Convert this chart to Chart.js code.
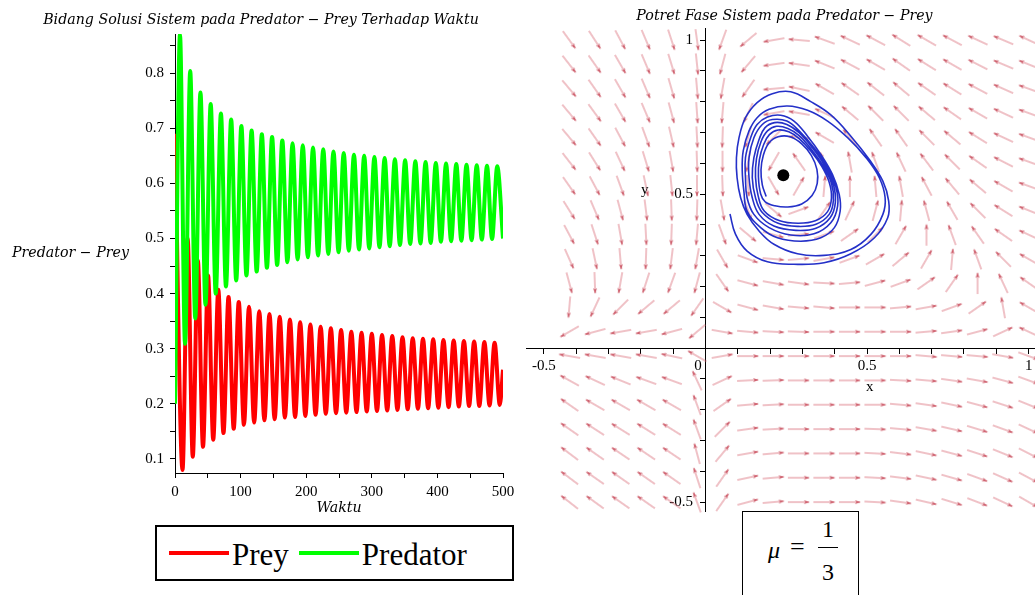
<!DOCTYPE html>
<html>
<head>
<meta charset="utf-8">
<script src="https://cdn.jsdelivr.net/npm/chart.js@4.4.0/dist/chart.umd.min.js"></script>
<style>
  body { margin: 0; width: 1035px; height: 595px; overflow: hidden; position: relative; background: #fff; font-family: "Liberation Serif", serif; color: #000; }
  canvas { position: absolute; top: 0; }
  #grafikWaktu { left: 0; }
  #grafikFase { left: 514px; }
  #labelSumbuY { position: absolute; left: 12px; top: 244px; font: italic 14.2px "DejaVu Serif"; line-height: 17px; white-space: nowrap; }
  #legenda { position: absolute; left: 155px; top: 525px; width: 343px; height: 52px; border: 2px solid #000; display: flex; align-items: center; padding-left: 12px; box-sizing: content-box; }
  #legenda .item { display: flex; align-items: center; margin-right: 10px; }
  #legenda .garis { width: 60px; height: 4px; margin-right: 3px; }
  #legenda .teks { font: 31px "Liberation Serif"; line-height: 31px; margin-top: 3px; }
  .labelFase { position: absolute; font: 15px "Liberation Serif"; line-height: 16px; }
  #kotakMu { position: absolute; left: 742px; top: 511px; width: 115px; height: 95px; border: 1px solid #000; background: #fff; }
  #kotakMu span { position: absolute; font: 24px "Liberation Serif"; line-height: 24px; }
  #kotakMu .garisPecahan { position: absolute; left: 75px; top: 35px; width: 20px; height: 1px; background: #000; }
</style>
</head>
<body>
<canvas id="grafikWaktu" width="520" height="520"></canvas>
<canvas id="grafikFase" width="541" height="523"></canvas>
<div id="labelSumbuY">Predator − Prey</div>
<div id="legenda"></div>
<div class="labelFase" style="left:641px; top:181px;">y</div>
<div class="labelFase" style="left:866px; top:378px;">x</div>
<div id="kotakMu">
  <span style="left:25px; top:26px; font-style:italic;">μ</span>
  <span style="left:47px; top:23px; font-size:26px;">=</span>
  <span style="left:79px; top:5px;">1</span>
  <div class="garisPecahan"></div>
  <span style="left:79px; top:48px;">3</span>
</div>
<script>
// deret waktu: titik puncak & lembah tiap osilasi
const waktuPredator = [0, 7.6, 15.3, 23.2, 30.9, 38.8, 46.5, 54.4, 62.1, 70.0, 77.7, 85.6, 93.3, 101.2, 108.9, 116.8, 124.5, 132.4, 140.1, 148.0, 155.7, 163.6, 171.3, 179.2, 186.9, 194.8, 202.5, 210.4, 218.1, 226.0, 233.7, 241.6, 249.3, 257.2, 264.9, 272.8, 280.5, 288.4, 296.1, 304.0, 311.7, 319.6, 327.3, 335.2, 342.9, 350.8, 358.5, 366.4, 374.1, 382.0, 389.7, 397.6, 405.3, 413.2, 420.9, 428.8, 436.5, 444.4, 452.1, 460.0, 467.7, 475.6, 483.3, 491.2, 500];
const nilaiPredator = [0.20, 0.870, 0.309, 0.804, 0.355, 0.765, 0.380, 0.744, 0.400, 0.727, 0.413, 0.716, 0.424, 0.704, 0.433, 0.696, 0.440, 0.689, 0.447, 0.684, 0.452, 0.678, 0.457, 0.673, 0.462, 0.669, 0.466, 0.665, 0.469, 0.662, 0.472, 0.658, 0.475, 0.655, 0.478, 0.652, 0.480, 0.650, 0.482, 0.648, 0.484, 0.646, 0.486, 0.644, 0.488, 0.642, 0.490, 0.640, 0.491, 0.639, 0.492, 0.637, 0.494, 0.636, 0.495, 0.635, 0.496, 0.634, 0.497, 0.633, 0.498, 0.632, 0.499, 0.631, 0.500];
const waktuPrey = [0, 11.5, 19.2, 27.1, 34.8, 42.7, 50.4, 58.3, 66.0, 73.9, 81.6, 89.5, 97.2, 105.1, 112.8, 120.7, 128.4, 136.3, 144.0, 151.9, 159.6, 167.5, 175.2, 183.1, 190.8, 198.7, 206.4, 214.3, 222.0, 229.9, 237.6, 245.5, 253.2, 261.1, 268.8, 276.7, 284.4, 292.3, 300.0, 307.9, 315.6, 323.5, 331.2, 339.1, 346.8, 354.7, 362.4, 370.3, 378.0, 385.9, 393.6, 401.5, 409.2, 417.1, 424.8, 432.7, 440.4, 448.3, 456.0, 463.9, 471.6, 479.5, 487.2, 495.1, 500];
const nilaiPrey = [0.69, 0.080, 0.500, 0.104, 0.460, 0.122, 0.433, 0.135, 0.407, 0.147, 0.394, 0.155, 0.385, 0.162, 0.376, 0.166, 0.368, 0.170, 0.363, 0.172, 0.358, 0.175, 0.353, 0.176, 0.348, 0.178, 0.344, 0.180, 0.340, 0.182, 0.337, 0.183, 0.334, 0.184, 0.331, 0.185, 0.329, 0.186, 0.327, 0.187, 0.325, 0.188, 0.323, 0.189, 0.321, 0.190, 0.319, 0.191, 0.318, 0.192, 0.317, 0.193, 0.316, 0.194, 0.315, 0.195, 0.314, 0.196, 0.313, 0.196, 0.312, 0.197, 0.311, 0.198, 0.262];
const tickWaktu = [0, 50, 100, 150, 200, 250, 300, 350, 400, 450, 500];
const tickNilai = [0.1, 0.15, 0.2, 0.25, 0.3, 0.35, 0.4, 0.45, 0.5, 0.55, 0.6, 0.65, 0.7, 0.75, 0.8, 0.85];

// potret fase: lintasan (x = prey, y = predator) dan titik setimbang
const lintasanX = [0.076, 0.093, 0.129, 0.192, 0.274, 0.367, 0.450, 0.523, 0.564, 0.567, 0.549, 0.507, 0.450, 0.388, 0.326, 0.264, 0.207, 0.160, 0.124, 0.104, 0.096, 0.098, 0.109, 0.129,
  0.166, 0.212, 0.285, 0.367, 0.450, 0.512, 0.549, 0.556, 0.538, 0.497, 0.440, 0.378, 0.316, 0.254, 0.197, 0.160, 0.135, 0.117, 0.114, 0.119,
  0.129, 0.171, 0.223, 0.295, 0.357, 0.399, 0.417, 0.414, 0.393, 0.357, 0.316, 0.274, 0.233, 0.192, 0.160, 0.140, 0.124, 0.124, 0.129,
  0.150, 0.197, 0.264, 0.336, 0.388, 0.409, 0.404, 0.378, 0.336, 0.290, 0.252, 0.207, 0.176, 0.150, 0.135, 0.135, 0.145,
  0.166, 0.212, 0.280, 0.342, 0.386, 0.402, 0.396, 0.370, 0.331, 0.290, 0.252, 0.214, 0.184, 0.166, 0.150, 0.145, 0.155,
  0.176, 0.225, 0.285, 0.342, 0.383, 0.396, 0.390, 0.365, 0.328, 0.290, 0.255, 0.220, 0.192, 0.172, 0.158, 0.155, 0.163,
  0.182, 0.230, 0.288, 0.340, 0.378, 0.390, 0.383, 0.360, 0.326, 0.290, 0.258, 0.225, 0.198, 0.180, 0.167, 0.164, 0.171,
  0.185, 0.215, 0.255, 0.298, 0.330, 0.346, 0.345, 0.328, 0.298, 0.262, 0.225, 0.196, 0.179, 0.172, 0.176, 0.188];
const lintasanY = [0.435, 0.370, 0.315, 0.280, 0.272, 0.277, 0.306, 0.358, 0.423, 0.477, 0.542, 0.612, 0.688, 0.757, 0.800, 0.832, 0.826, 0.797, 0.748, 0.683, 0.618, 0.553, 0.488, 0.434,
  0.380, 0.337, 0.306, 0.301, 0.320, 0.369, 0.434, 0.488, 0.553, 0.618, 0.683, 0.737, 0.772, 0.786, 0.775, 0.748, 0.705, 0.640, 0.575, 0.510,
  0.445, 0.391, 0.358, 0.347, 0.358, 0.391, 0.445, 0.499, 0.564, 0.629, 0.688, 0.737, 0.756, 0.750, 0.726, 0.683, 0.618, 0.553, 0.488,
  0.434, 0.391, 0.367, 0.371, 0.407, 0.461, 0.521, 0.585, 0.650, 0.705, 0.737, 0.742, 0.726, 0.683, 0.618, 0.553, 0.488,
  0.434, 0.396, 0.382, 0.389, 0.423, 0.472, 0.531, 0.591, 0.650, 0.699, 0.726, 0.732, 0.715, 0.677, 0.618, 0.553, 0.488,
  0.440, 0.405, 0.395, 0.402, 0.434, 0.480, 0.535, 0.590, 0.645, 0.690, 0.713, 0.720, 0.705, 0.670, 0.615, 0.555, 0.495,
  0.445, 0.413, 0.405, 0.413, 0.443, 0.487, 0.538, 0.590, 0.640, 0.680, 0.702, 0.708, 0.693, 0.660, 0.612, 0.557, 0.500,
  0.475, 0.462, 0.458, 0.468, 0.495, 0.535, 0.580, 0.625, 0.663, 0.686, 0.686, 0.665, 0.625, 0.578, 0.530, 0.492];
const titikSetimbang = { x: 0.241, y: 0.561 };
const tickFase = [-0.5, -0.4, -0.3, -0.2, -0.1, 0, 0.1, 0.2, 0.3, 0.4, 0.5, 0.6, 0.7, 0.8, 0.9, 1];

// medan arah: posisi grid dan sudut panah (derajat, berlawanan jarum jam dari sumbu x)
const arahX = [-0.421, -0.342, -0.263, -0.184, -0.105, -0.026, 0.053, 0.132, 0.211, 0.289, 0.368, 0.447, 0.526, 0.605, 0.684, 0.763, 0.842, 0.921, 1.0];
const arahY = [1.0, 0.921, 0.842, 0.763, 0.684, 0.605, 0.526, 0.447, 0.368, 0.289, 0.211, 0.132, 0.053, -0.026, -0.105, -0.184, -0.263, -0.342, -0.421, -0.5];
const sudutArah = [
  [-54, -57, -62, -67, -72, -82, -110, -140, -170, 175, 160, 155, 152, 148, 150, 152, 155, 157, 155],
  [-52, -55, -60, -67, -73, -84, -105, -130, -172, 172, 158, 152, 150, 145, 148, 150, 153, 157, 158],
  [-50, -55, -60, -67, -74, -85, -100, -125, -175, 168, 150, 145, 142, 140, 145, 148, 152, 156, 160],
  [-50, -54, -60, -67, -75, -86, -95, -115, -170, 170, 155, 140, 135, 135, 140, 145, 150, 155, 160],
  [-50, -55, -62, -70, -77, -87, -92, -105, -135, 175, 150, 130, 125, 125, 135, 140, 148, 155, 160],
  [-52, -58, -65, -73, -80, -88, -90, -100, -120, 125, 115, 100, 110, 115, 127, 135, 145, 153, 160],
  [-55, -62, -70, -78, -84, -90, -88, -85, -60, 60, 85, 90, 95, 100, 118, 130, 140, 150, 160],
  [-58, -67, -75, -83, -88, -92, -80, -70, -40, 20, 55, 65, 75, 85, 105, 120, 135, 148, 158],
  [-62, -72, -80, -87, -92, -95, -70, -40, -15, 5, 20, 35, 45, 60, 90, 110, 125, 145, 155],
  [-66, -78, -85, -92, -97, -100, -60, -20, -5, 5, 10, 20, 30, 40, 60, 85, 110, 135, 150],
  [-75, -88, -100, -108, -110, -105, -55, -15, -10, -8, -3, 5, 15, 20, 35, 55, 90, 115, 145],
  [-95, -115, -135, -140, -140, -125, -30, -15, -10, -5, -5, 0, 0, 5, 10, 20, 35, 100, 150],
  [-150, -165, -170, -170, -165, -140, -10, -5, -3, -2, 0, 0, 0, 0, 5, 8, 15, 25, 155],
  [170, 170, 170, 170, 168, 150, 10, 0, 0, 0, 0, 0, 0, 0, -5, -5, -5, -10, -20],
  [151, 155, 158, 160, 160, 115, 25, 3, 2, 0, 0, 0, 0, -3, -5, -8, -10, -15, -20],
  [145, 150, 150, 150, 150, 110, 35, 5, 3, 0, 0, 0, 0, -5, -8, -12, -15, -18, -22],
  [145, 147, 148, 148, 148, 110, 45, 8, 3, 0, 0, 0, -2, -5, -10, -13, -17, -20, -25],
  [143, 145, 146, 146, 146, 105, 50, 10, 5, 0, 0, 0, -3, -7, -12, -15, -18, -22, -27],
  [143, 145, 145, 145, 145, 108, 55, 12, 5, 0, 0, 0, -3, -7, -12, -16, -20, -24, -28],
  [142, 144, 145, 145, 145, 110, 55, 15, 5, 0, 0, 0, -3, -8, -13, -17, -21, -25, -30]
];

const hitam = '#000';
const fontJudul = { family: 'DejaVu Serif', style: 'italic', size: 14.2, weight: 'normal' };
const fontTick = { family: 'Liberation Serif', size: 15 };

const gabung = (xs, ys) => xs.map((x, i) => ({ x: x, y: ys[i] }));
const pakaiTick = (daftar) => (scale) => { scale.ticks = daftar.map(v => ({ value: v })); };

// ---------- grafik kiri: solusi terhadap waktu ----------
const grafikWaktu = new Chart(document.getElementById('grafikWaktu'), {
  type: 'line',
  data: {
    datasets: [
      { label: 'Predator', data: gabung(waktuPredator, nilaiPredator), borderColor: '#00ff00', backgroundColor: '#00ff00', borderWidth: 4, pointRadius: 0, cubicInterpolationMode: 'monotone', fill: false },
      { label: 'Prey', data: gabung(waktuPrey, nilaiPrey), borderColor: '#ff0000', backgroundColor: '#ff0000', borderWidth: 4, pointRadius: 0, cubicInterpolationMode: 'monotone', fill: false }
    ]
  },
  options: {
    responsive: false, animation: false, devicePixelRatio: 1,
    layout: { padding: { left: 19, right: 17, top: 0, bottom: 0 } },
    plugins: {
      legend: { display: false },
      tooltip: { enabled: false },
      title: { display: true, text: 'Bidang Solusi Sistem pada Predator − Prey Terhadap Waktu', font: fontJudul, color: hitam, padding: { top: 12, bottom: 5 } }
    },
    scales: {
      x: {
        type: 'linear', min: 0, max: 500,
        afterBuildTicks: pakaiTick(tickWaktu),
        afterFit: (s) => { s.height = 47; },
        ticks: { autoSkip: false, maxRotation: 0, color: hitam, font: fontTick, padding: 5, callback: (v) => (v % 100 === 0 ? String(v) : '') },
        grid: { drawOnChartArea: false, tickLength: 5, color: hitam },
        border: { color: hitam, width: 1 },
        title: { display: true, text: 'Waktu', font: fontJudul, color: hitam, padding: { top: 0, bottom: 3 } }
      },
      y: {
        min: 0.0745, max: 0.871,
        afterBuildTicks: pakaiTick(tickNilai),
        afterFit: (s) => { s.width = 156; },
        ticks: { autoSkip: false, color: hitam, font: fontTick, padding: 6, callback: (v) => (Math.round(v * 100) % 10 === 0 ? v.toFixed(1) : '') },
        grid: { drawOnChartArea: false, tickLength: 5, color: hitam },
        border: { color: hitam, width: 1 }
      }
    }
  }
});

// legenda dalam kotak, urutan Prey lalu Predator
const legenda = document.getElementById('legenda');
grafikWaktu.data.datasets.slice().reverse().forEach((ds) => {
  const item = document.createElement('div');
  item.className = 'item';
  item.innerHTML = '<span class="garis" style="background:' + ds.borderColor + '"></span><span class="teks">' + ds.label + '</span>';
  legenda.appendChild(item);
});

// ---------- grafik kanan: potret fase ----------
const panah = document.createElement('canvas');
panah.width = 24; panah.height = 8;
const pc = panah.getContext('2d');
pc.strokeStyle = 'rgba(216, 104, 116, 0.8)';
pc.lineWidth = 1;
pc.beginPath(); pc.moveTo(1, 4); pc.lineTo(22, 4); pc.stroke();
pc.fillStyle = 'rgba(200, 80, 95, 0.85)';
pc.beginPath(); pc.moveTo(23, 4); pc.lineTo(17, 2); pc.lineTo(18.5, 4); pc.lineTo(17, 6); pc.closePath(); pc.fill();

const titikArah = [];
const putaranArah = [];
arahY.forEach((y, r) => {
  arahX.forEach((x, c) => {
    titikArah.push({ x: x, y: y });
    putaranArah.push(-sudutArah[r][c]);
  });
});

// label sumbu y digeser dari garis sumbu dengan spasi
const tickFaseLabel = (sumbu) => (v) => {
  const geser = sumbu === 'y' ? '\u2002\u2004' : '';
  if (v === 0) return sumbu === 'x' ? '0\u2003' : '';
  if (v === -0.5) return '-0.5' + geser;
  if (v === 0.5) return '0.5' + geser;
  if (v === 1) return '1' + geser;
  return '';
};

new Chart(document.getElementById('grafikFase'), {
  type: 'scatter',
  data: {
    datasets: [
      { data: [titikSetimbang], pointRadius: 6, pointBackgroundColor: hitam, pointBorderColor: hitam, pointBorderWidth: 0 },
      { data: gabung(lintasanX, lintasanY), showLine: true, pointRadius: 0, borderColor: '#2430c8', borderWidth: 1.6, tension: 0.4, fill: false },
      { data: titikArah, pointStyle: panah, pointRotation: putaranArah, pointRadius: 11, clip: false }
    ]
  },
  options: {
    responsive: false, animation: false, devicePixelRatio: 1,
    layout: { padding: { left: 0, right: 0, top: 0, bottom: 5 } },
    plugins: {
      legend: { display: false },
      tooltip: { enabled: false },
      title: { display: true, text: 'Potret Fase Sistem pada Predator − Prey', font: fontJudul, color: hitam, padding: { top: 8, bottom: 3 } }
    },
    scales: {
      x: {
        type: 'linear', min: -0.555, max: 1.0444, position: { y: 0 },
        afterBuildTicks: pakaiTick(tickFase),
        ticks: { autoSkip: false, maxRotation: 0, color: hitam, font: fontTick, padding: 4, callback: tickFaseLabel('x') },
        grid: { drawOnChartArea: false, tickLength: 5, color: hitam },
        border: { color: hitam, width: 1 }
      },
      y: {
        min: -0.529, max: 1.039, position: { x: 0 },
        afterBuildTicks: pakaiTick(tickFase),
        ticks: { autoSkip: false, color: hitam, font: fontTick, padding: 0, callback: tickFaseLabel('y') },
        grid: { drawOnChartArea: false, tickLength: 5, color: hitam },
        border: { color: hitam, width: 1 }
      }
    }
  }
});
</script>
</body>
</html>
